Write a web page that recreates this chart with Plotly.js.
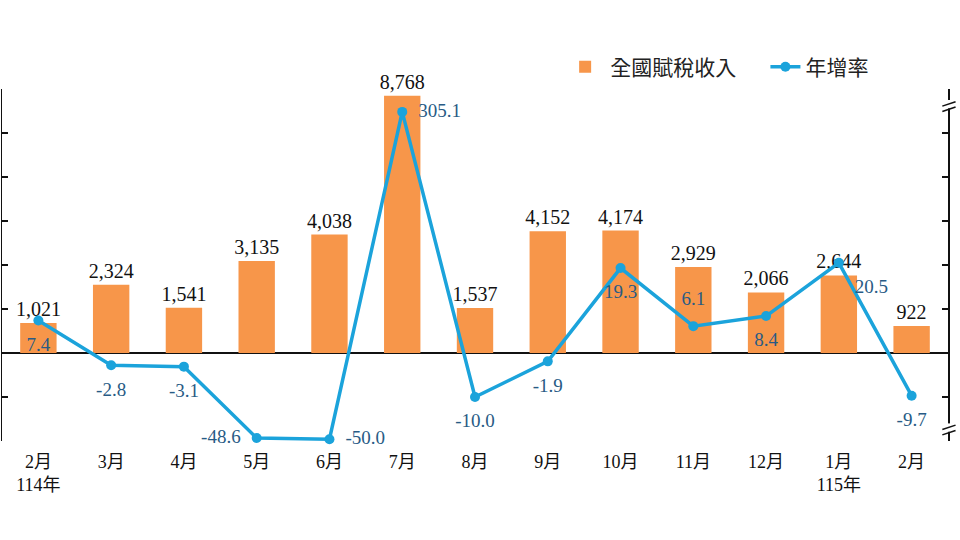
<!DOCTYPE html>
<html>
<head>
<meta charset="utf-8">
<script src="https://cdn.plot.ly/plotly-3.0.1.min.js"></script>
<style>html,body{margin:0;padding:0;background:#fff;}#chart{width:960px;height:540px;}</style>
</head>
<body>
<div id="chart"></div>
<script>
// ---- data ----
const months = ["2月","3月","4月","5月","6月","7月","8月","9月","10月","11月","12月","1月","2月"];
const yearLabels = ["114年","","","","","","","","","","","115年",""];
const revenue = [1021, 2324, 1541, 3135, 4038, 8768, 1537, 4152, 4174, 2929, 2066, 2644, 922];
const growth = [7.4, -2.8, -3.1, -48.6, -50.0, 305.1, -10.0, -1.9, 19.3, 6.1, 8.4, 20.5, -9.7];
const growthLabelPos = ["bottom center","bottom center","bottom center","middle left","middle right",
  "middle right","bottom center","bottom center","bottom center","top center","bottom center",
  "bottom right","bottom center"];
const seriesNames = ["全國賦稅收入","年增率"];

// broken right axis scale: linear between -12 and 50, compressed outside
function brokenScale(v){
  if (v > 50) return 50 + (v - 50) * 0.0188;
  if (v < -12) return -12 + (v + 12) * 0.2;
  return v;
}

const idx = months.map((_, i) => i);
const tickText = months.map((m, i) => yearLabels[i] ? m + "<br>" + yearLabels[i] : m);
const serif = "Liberation Serif, 'Times New Roman', 'Noto Sans CJK TC', serif";
const cjk = "'Noto Sans CJK TC', sans-serif";
const lineColor = "#1BA3DB";

const barTrace = {
  type: "bar", name: seriesNames[0], legend: "legend", x: idx, y: revenue,
  marker: {color: "#F7964A"},
  text: revenue.map(v => v.toLocaleString("en-US")),
  textposition: "outside", cliponaxis: false, constraintext: "none",
  textfont: {family: serif, size: 20, color: "#111"},
  hoverinfo: "skip"
};
const lineTrace = {
  type: "scatter", mode: "lines+markers", name: seriesNames[1], legend: "legend2",
  x: idx, y: growth.map(brokenScale), yaxis: "y2",
  line: {color: lineColor, width: 3.5},
  marker: {color: lineColor, size: 10},
  cliponaxis: false, hoverinfo: "skip"
};
const labelTrace = {
  type: "scatter", mode: "markers+text", showlegend: false,
  x: idx, y: growth.map(brokenScale), yaxis: "y2",
  marker: {size: 24, opacity: 0},
  text: growth.map(v => v.toFixed(1)),
  textposition: growthLabelPos, cliponaxis: false,
  textfont: {family: serif, size: 19, color: "#285B85"},
  hoverinfo: "skip"
};

function brk(yv){
  return [
    {type:"rect", xref:"paper", yref:"y2", x0:0.992, x1:1.01, y0:yv-1.4, y1:yv+0.5, fillcolor:"#fff", line:{width:0}, layer:"above"},
    {type:"line", xref:"paper", yref:"y2", x0:0.994, x1:1.008, y0:yv-0.9, y1:yv+0.1, line:{color:"#111", width:1.5}, layer:"above"},
    {type:"line", xref:"paper", yref:"y2", x0:0.994, x1:1.008, y0:yv-2.1, y1:yv-1.1, line:{color:"#111", width:1.5}, layer:"above"}
  ];
}

const legendFont = {family: cjk, size: 21, color: "#222"};
const layout = {
  width: 960, height: 540,
  margin: {l: 2, r: 12, t: 89, b: 99},
  paper_bgcolor: "#fff", plot_bgcolor: "#fff",
  bargap: 0.5, showlegend: true,
  legend: {orientation: "h", x: 0.59, y: 1.062, xanchor: "left", yanchor: "middle",
    font: legendFont, itemwidth: 40},
  legend2: {orientation: "h", x: 0.807, y: 1.062, xanchor: "left", yanchor: "middle",
    font: legendFont, itemwidth: 30},
  xaxis: {range: [-0.5, 12.5], tickvals: idx, ticktext: tickText, ticks: "",
    showline: false, showgrid: false, zeroline: false, ticklabelstandoff: 8,
    tickfont: {family: serif, size: 18, color: "#111"}},
  yaxis: {range: [-3000, 9000], tickvals: [-3000,-1500,0,1500,3000,4500,6000,7500,9000],
    showticklabels: false, ticks: "inside", ticklen: 6, tickwidth: 1.5, tickcolor: "#111",
    showline: true, linecolor: "#111", linewidth: 1.5, showgrid: false,
    zeroline: true, zerolinecolor: "#111", zerolinewidth: 1.5},
  yaxis2: {overlaying: "y", side: "right", range: [-20, 60],
    tickvals: [-20,-10,0,10,20,30,40,50,60], showticklabels: false,
    ticks: "inside", ticklen: 6, tickwidth: 1.5, tickcolor: "#111",
    showline: true, linecolor: "#111", linewidth: 1.5, showgrid: false, zeroline: false},
  shapes: brk(57).concat(brk(-16.5))
};

Plotly.newPlot("chart", [barTrace, lineTrace, labelTrace], layout, {staticPlot: true});
</script>
</body>
</html>
